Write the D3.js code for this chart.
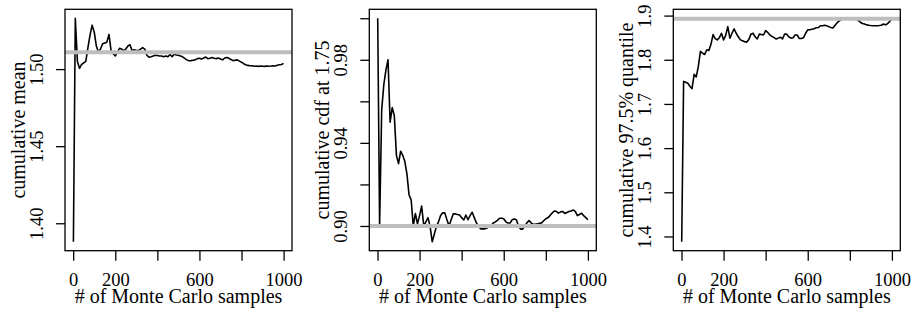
<!DOCTYPE html>
<html><head><meta charset="utf-8">
<script src="https://cdn.jsdelivr.net/npm/d3@7"></script>
<style>
body{margin:0;background:#fff}
svg{display:block}
</style>
</head><body><svg id="c" width="917" height="318"></svg>
<script>
const samples=[1,10,20,30,40,50,60,70,80,90,100,110,120,130,140,150,160,170,180,190,200,210,220,230,240,250,260,270,280,290,300,310,320,330,340,350,360,370,380,390,400,410,420,430,440,450,460,470,480,490,500,510,520,530,540,550,560,570,580,590,600,610,620,630,640,650,660,670,680,690,700,710,720,730,740,750,760,770,780,790,800,810,820,830,840,850,860,870,880,890,900,910,920,930,940,950,960,970,980,990,1000];
const meanVals=[1.388,1.533,1.505,1.5005,1.503,1.504,1.505,1.514,1.522,1.5285,
1.524,1.515,1.511,1.513,1.5165,1.517,1.5175,1.5225,1.512,1.510,
1.5085,1.511,1.5135,1.513,1.512,1.513,1.515,1.5158,1.512,1.5125,
1.512,1.512,1.513,1.514,1.513,1.509,1.5078,1.508,1.5085,1.509,
1.5088,1.5085,1.5085,1.508,1.5085,1.508,1.5095,1.508,1.5098,1.5092,
1.509,1.5085,1.508,1.507,1.506,1.5054,1.5055,1.5058,1.506,1.5068,
1.507,1.5065,1.5072,1.5078,1.5068,1.507,1.5075,1.507,1.5068,1.5072,
1.5066,1.506,1.5072,1.5076,1.507,1.5062,1.5055,1.5058,1.506,1.5052,
1.5045,1.5035,1.5028,1.5024,1.5022,1.5022,1.5019,1.502,1.5018,1.502,
1.5019,1.5018,1.502,1.5019,1.502,1.5022,1.502,1.5025,1.5028,1.503,
1.5037];
const cdfVals=[1.000,0.900,0.956,0.968,0.975,0.980,0.950,0.957,0.953,0.934,
0.930,0.936,0.934,0.931,0.925,0.915,0.9125,0.900,0.906,0.901,
0.905,0.9096,0.900,0.902,0.904,0.8998,0.8924,0.896,0.8998,0.902,
0.905,0.9064,0.9063,0.903,0.900,0.903,0.9058,0.9058,0.9055,0.9053,
0.904,0.9029,0.9053,0.903,0.905,0.9066,0.904,0.9015,0.900,0.8986,
0.8986,0.8986,0.899,0.8998,0.900,0.9014,0.902,0.9027,0.9037,0.9037,
0.9035,0.902,0.9014,0.9014,0.903,0.9034,0.903,0.900,0.8985,0.8985,
0.900,0.9015,0.9026,0.9015,0.9008,0.9008,0.901,0.9013,0.9015,0.9025,
0.9035,0.904,0.905,0.9062,0.9072,0.907,0.9062,0.9068,0.907,0.906,
0.9065,0.907,0.9072,0.9077,0.907,0.905,0.9055,0.9061,0.905,0.904,
0.903];
const quantVals=[1.388,1.751,1.749,1.747,1.740,1.7345,1.767,1.761,1.785,1.819,
1.815,1.812,1.8226,1.821,1.835,1.857,1.848,1.845,1.850,1.860,
1.845,1.855,1.875,1.849,1.860,1.870,1.860,1.852,1.845,1.843,
1.841,1.840,1.846,1.858,1.860,1.852,1.847,1.858,1.857,1.856,
1.866,1.862,1.856,1.853,1.850,1.847,1.849,1.851,1.847,1.858,
1.858,1.852,1.849,1.850,1.856,1.856,1.848,1.848,1.850,1.860,
1.8677,1.868,1.869,1.870,1.8725,1.873,1.877,1.877,1.878,1.877,
1.875,1.873,1.872,1.878,1.884,1.888,1.8915,1.893,1.8935,1.8935,
1.894,1.8935,1.893,1.8925,1.889,1.885,1.882,1.881,1.879,1.878,
1.8774,1.877,1.877,1.877,1.8774,1.878,1.881,1.879,1.882,1.887,
1.8926];
const refValues=[1.511,0.90,1.8926];
const xTicks=[0,200,400,600,800,1000];
const xTickLabels=["0","200","","600","","1000"];
const yTicks1=[1.40,1.45,1.50];
const yTickLabels1=["1.40","1.45","1.50"];
const yTicks2=[0.90,0.92,0.94,0.96,0.98,1.00];
const yTickLabels2=["0.90","","0.94","","0.98",""];
const yTicks3=[1.4,1.5,1.6,1.7,1.8,1.9];
const yTickLabels3=["1.4","1.5","1.6","1.7","1.8","1.9"];
const yTitles=["cumulative mean","cumulative cdf at 1.75","cumulative 97.5% quantile"];
const xTitle="# of Monte Carlo samples";

const panels=[
 {vals:meanVals,ref:refValues[0],ticks:yTicks1,labels:yTickLabels1,title:yTitles[0]},
 {vals:cdfVals,ref:refValues[1],ticks:yTicks2,labels:yTickLabels2,title:yTitles[1]},
 {vals:quantVals,ref:refValues[2],ticks:yTicks3,labels:yTickLabels3,title:yTitles[2]}
];
const lefts=[65,369.3,673.3];
const pw=227, plotTop=9.3, plotBot=250.7;
const FS=18.5, TFS=20;
const FF="Liberation Serif";
const svg=d3.select("#c");

function pad(ext){const r=ext[1]-ext[0];return [ext[0]-0.04*r,ext[1]+0.04*r];}

panels.forEach((p,k)=>{
  const L=lefts[k];
  const x=d3.scaleLinear().domain(pad(d3.extent(samples))).range([L,L+pw]);
  const y=d3.scaleLinear().domain(pad(d3.extent(p.vals))).range([plotBot,plotTop]);
  const cid="clip"+k;
  svg.append("clipPath").attr("id",cid).append("rect")
    .attr("x",L).attr("y",plotTop).attr("width",pw).attr("height",plotBot-plotTop);
  const data=samples.map((s,i)=>[s,p.vals[i]]);
  const g=svg.append("g").attr("clip-path","url(#"+cid+")");
  g.append("path").datum(data)
    .attr("d",d3.line().x(d=>x(d[0])).y(d=>y(d[1])))
    .attr("fill","none").attr("stroke","#000").attr("stroke-width",1.6)
    .attr("stroke-linejoin","round");
  g.append("line").attr("x1",L).attr("x2",L+pw)
    .attr("y1",y(p.ref)).attr("y2",y(p.ref))
    .attr("stroke","#bebebe").attr("stroke-width",4);
  svg.append("rect").attr("x",L).attr("y",plotTop).attr("width",pw).attr("height",plotBot-plotTop)
    .attr("fill","none").attr("stroke","#000").attr("stroke-width",1.3);

  const xa=svg.append("g").attr("transform","translate(0,"+plotBot+")")
    .call(d3.axisBottom(x).tickValues(xTicks).tickFormat((d,i)=>xTickLabels[i]).tickSize(10).tickSizeOuter(0));
  xa.attr("font-family",FF).attr("font-size",FS);
  xa.select(".domain").remove();
  xa.selectAll("line").attr("stroke-width",1.3);
  xa.selectAll("text").attr("y",35).attr("dy",null).attr("fill","#000");
  xa.selectAll("text").filter(function(){return this.textContent==="";}).remove();

  const ya=svg.append("g").attr("transform","translate("+L+",0)")
    .call(d3.axisLeft(y).tickValues(p.ticks).tickFormat((d,i)=>p.labels[i]).tickSize(9).tickSizeOuter(0));
  ya.attr("font-family",FF).attr("font-size",FS);
  ya.select(".domain").remove();
  ya.selectAll("line").attr("stroke-width",1.3);
  ya.selectAll("text").attr("x",null).attr("dy",null).attr("fill","#000")
    .attr("transform","translate(-22,0) rotate(-90)").attr("text-anchor","middle");
  ya.selectAll("text").filter(function(){return this.textContent==="";}).remove();

  svg.append("text").attr("x",L+pw/2).attr("y",303).attr("text-anchor","middle")
    .attr("font-family",FF).attr("font-size",TFS).attr("fill","#000").text(xTitle);
  svg.append("text").attr("transform","translate("+(L-40)+","+((plotTop+plotBot)/2)+") rotate(-90)")
    .attr("text-anchor","middle").attr("font-family",FF).attr("font-size",TFS).attr("fill","#000").text(p.title);
});
</script>
</body></html>
